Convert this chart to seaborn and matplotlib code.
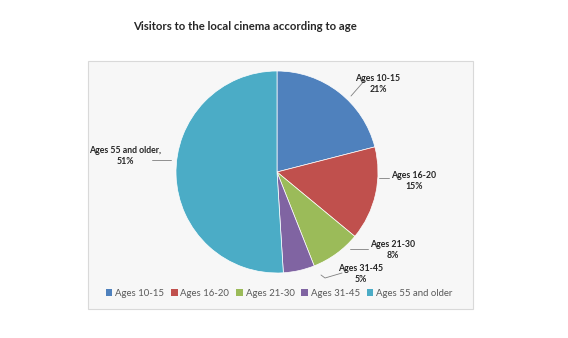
import matplotlib
matplotlib.use("Agg")
import matplotlib.pyplot as plt
from matplotlib.patches import Rectangle, Patch
import seaborn as sns

sns.set_theme(style="white")
plt.rcParams["font.family"] = ["Lato", "DejaVu Sans"]

categories = ["Ages 10-15", "Ages 16-20", "Ages 21-30", "Ages 31-45", "Ages 55 and older"]
shares = [21, 15, 8, 5, 51]
colors = ["#4F81BD", "#C0504D", "#9BBB59", "#8064A2", "#4BACC6"]
title = "Visitors to the local cinema according to age"

W, H = 568, 338
fig = plt.figure(figsize=(W / 100, H / 100), dpi=100)
fig.patch.set_facecolor("white")

# chart area box
fig.patches.append(Rectangle((88 / W, 1 - 309 / H), (473 - 88) / W, (309 - 61) / H,
                             transform=fig.transFigure, facecolor="#f7f7f7",
                             edgecolor="#d9d9d9", linewidth=0.8, zorder=-5))

cx, cy, r = 277, 172, 101
ax = fig.add_axes([(cx - r) / W, 1 - (cy + r) / H, 2 * r / W, 2 * r / H])
ax.set_zorder(2)
ax.set_facecolor("none")
pal = sns.color_palette(colors)
wedges, _ = ax.pie(shares, colors=pal, startangle=90, counterclock=False,
                   wedgeprops=dict(edgecolor="white", linewidth=0.5))
ax.set_xlim(-1, 1)
ax.set_ylim(-1, 1)
ax.set_aspect("equal")
ax.axis("off")


def d(px, py):
    return ((px - cx) / r, (cy - py) / r)


# data labels with leader lines
label_pos = [(378, 84), (414, 181), (393, 250), (361, 274), (125, 156)]
leaders = [
    [(351, 96), (365, 80)],
    [(379, 178), (389, 178)],
    [(350, 249), (368, 249)],
    [(321, 275), (325, 278), (342, 273)],
    [(152, 160), (171, 160)],
]
for i, (cat, val) in enumerate(zip(categories, shares)):
    sep = ",\n" if i == 4 else "\n"
    tx, ty = d(*label_pos[i])
    ax.text(tx, ty, f"{cat}{sep}{val}%", ha="center", va="center",
            fontsize=6.3, fontweight="bold", color="#262626",
            linespacing=1.25, clip_on=False)
    pts = [d(*p) for p in leaders[i]]
    ax.plot([p[0] for p in pts], [p[1] for p in pts], color="#7f7f7f",
            linewidth=0.6, clip_on=False)

fig.text(245 / W, 1 - 27 / H, title, ha="center", va="center",
         fontsize=8.2, fontweight="bold", color="#262626")

handles = [Patch(facecolor=c, edgecolor="none") for c in pal]
fig.legend(handles, categories, loc="center", bbox_to_anchor=(279 / W, 1 - 293 / H),
           ncol=5, frameon=False, fontsize=6.9, handlelength=0.7, handleheight=0.7,
           handletextpad=0.3, columnspacing=0.7, labelcolor="#595959")

fig.savefig("out.png", dpi=100)
